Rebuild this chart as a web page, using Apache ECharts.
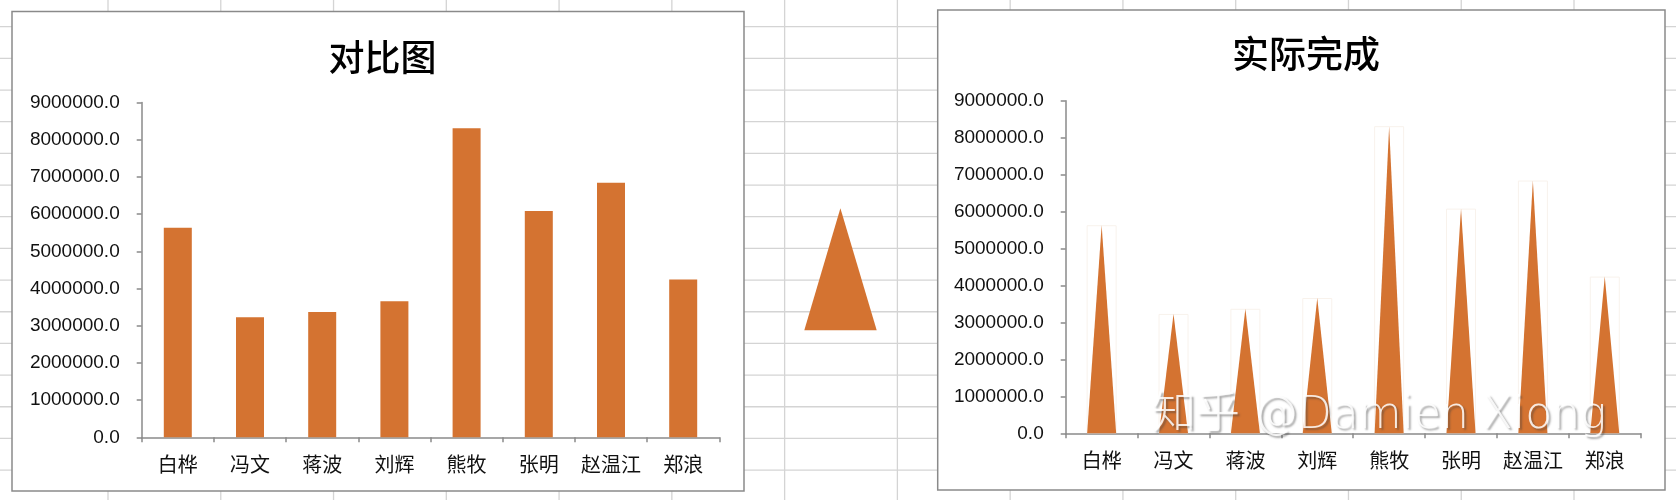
<!DOCTYPE html>
<html>
<head>
<meta charset="utf-8">
<script src="https://cdn.jsdelivr.net/npm/echarts@6/dist/echarts.min.js"></script>
<style>
html,body{margin:0;padding:0;background:#fff;}
#c{width:1676px;height:500px;}
</style>
</head>
<body>
<div id="c"></div>
<script>
// ---- data ----
var categories = ['白桦', '冯文', '蒋波', '刘辉', '熊牧', '张明', '赵温江', '郑浪'];
var values = [5630000, 3230000, 3370000, 3660000, 8310000, 6080000, 6840000, 4240000];
var leftTitle = '对比图';
var rightTitle = '实际完成';
var watermark = '知乎 @Damien Xiong';
var yMin = 0, yMax = 9000000, yStep = 1000000;

var ORANGE = '#D47331';
var AXIS = '#8a8a8a';

var chart = echarts.init(document.getElementById('c'));

// spreadsheet background lines
var bg = [];
for (var k = 0; k < 15; k++) {
  var x = 108 + 112.77 * k;
  bg.push({type: 'line', z: -20, shape: {x1: x, y1: 0, x2: x, y2: 500}, style: {stroke: '#d4d4d4', lineWidth: 1.3}});
}
for (var j = 0; j < 15; j++) {
  var y = 26.7 + 31.67 * j;
  if (y > 500) break;
  bg.push({type: 'line', z: -20, shape: {x1: 0, y1: y, x2: 1676, y2: y}, style: {stroke: '#d4d4d4', lineWidth: 1.3}});
}
// chart frames
bg.push({type: 'rect', z: -10, shape: {x: 12, y: 11.5, width: 732, height: 479.5}, style: {fill: '#fff', stroke: AXIS, lineWidth: 1.5}});
bg.push({type: 'rect', z: -10, shape: {x: 937.7, y: 10, width: 727.3, height: 480}, style: {fill: '#fff', stroke: AXIS, lineWidth: 1.5}});
// middle triangle shape
bg.push({type: 'polygon', z: -5, shape: {points: [[840.4, 208.3], [876.7, 330.3], [804.3, 330.3]]}, style: {fill: ORANGE}});
// watermark
bg.push({type: 'text', z: 100, left: 1152, top: 395, style: {
  text: watermark, fontSize: 44, fontFamily: 'DejaVu Sans, Noto Sans CJK SC', fontWeight: 300,
  fill: 'rgba(255,255,255,0.85)', textShadowColor: 'rgba(60,60,60,0.55)', textShadowBlur: 2,
  textShadowOffsetX: 2, textShadowOffsetY: 2
}});

function yAxisCfg(gi) {
  return {
    type: 'value', gridIndex: gi, min: yMin, max: yMax, interval: yStep,
    axisLine: {show: true, lineStyle: {color: AXIS, width: 1.5}},
    axisTick: {show: true, length: 5, lineStyle: {color: AXIS, width: 1.5}},
    splitLine: {show: false},
    axisLabel: {
      margin: 22, fontSize: 19, color: '#111', fontFamily: 'Liberation Sans',
      formatter: function (v) { return v.toFixed(1); }
    }
  };
}
function xAxisCfg(gi) {
  return {
    type: 'category', gridIndex: gi, data: categories,
    axisLine: {show: true, lineStyle: {color: AXIS, width: 1.5}},
    axisTick: {show: true, length: 5, alignWithLabel: false, lineStyle: {color: AXIS, width: 1.5}},
    axisLabel: {margin: 17, fontSize: 20, color: '#111', fontFamily: 'Noto Sans CJK SC', interval: 0}
  };
}

chart.setOption({
  animation: false,
  backgroundColor: '#fff',
  title: [
    {text: leftTitle, left: 377.5, top: 34, textAlign: 'center',
     textStyle: {fontSize: 36, fontWeight: 500, color: '#000', fontFamily: 'Noto Sans CJK SC'}},
    {text: rightTitle, left: 1301, top: 30, textAlign: 'center',
     textStyle: {fontSize: 37, fontWeight: 500, color: '#000', fontFamily: 'Noto Sans CJK SC'}}
  ],
  grid: [
    {left: 141.7, top: 102.5, width: 577.6, height: 334.8},
    {left: 1065.7, top: 100.7, width: 575, height: 332.6}
  ],
  xAxis: [xAxisCfg(0), xAxisCfg(1)],
  yAxis: [yAxisCfg(0), yAxisCfg(1)],
  graphic: bg,
  series: [
    {type: 'bar', xAxisIndex: 0, yAxisIndex: 0, data: values, barWidth: 28,
     itemStyle: {color: ORANGE}},
    {type: 'bar', xAxisIndex: 1, yAxisIndex: 1, data: values, barWidth: 30, z: 1,
     itemStyle: {color: 'rgba(255,255,255,0)', borderColor: '#f8f2ec', borderWidth: 1}},
    {type: 'pictorialBar', xAxisIndex: 1, yAxisIndex: 1, data: values, z: 3,
     symbol: 'triangle', symbolSize: [29, '100%'], symbolPosition: 'start',
     itemStyle: {color: ORANGE}}
  ]
});
</script>
</body>
</html>
